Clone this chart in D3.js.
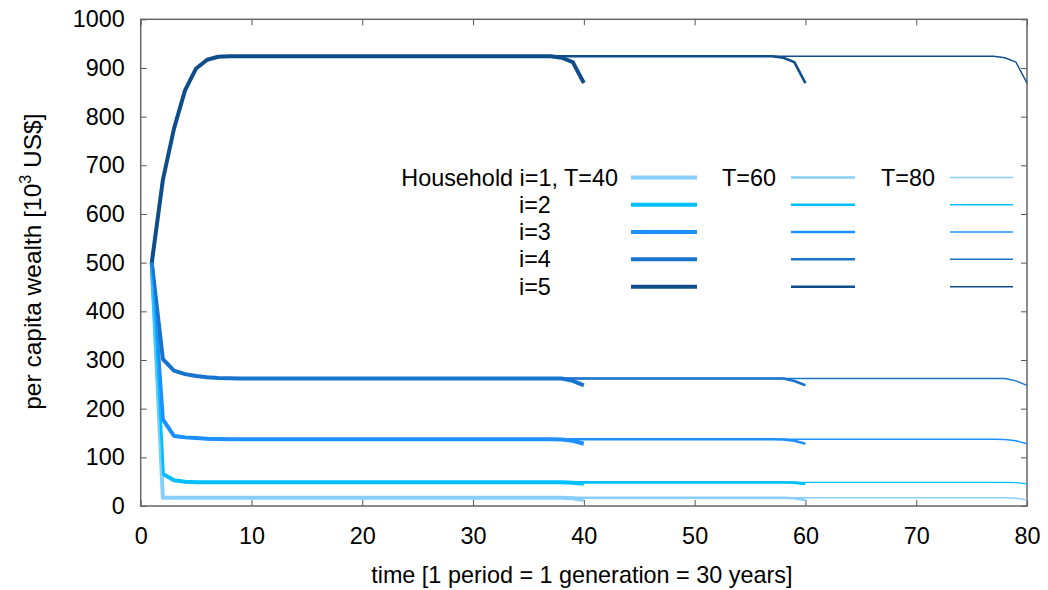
<!DOCTYPE html>
<html>
<head>
<meta charset="utf-8">
<script src="https://cdn.jsdelivr.net/npm/d3@7"></script>
<style>
  body { margin: 0; background: #fff; }
  text { font-family: "Liberation Sans", Arial, Helvetica, sans-serif; fill: #000; }
</style>
</head>
<body>
<svg id="chart" width="1048" height="590"></svg>
<script>
// Planning horizons (number of periods simulated)
const horizons = [40, 60, 80];
const households = ["i=1", "i=2", "i=3", "i=4", "i=5"];
const householdColors = ["#87cefa", "#00bfff", "#1e90ff", "#1874cd", "#104e8b"];
const horizonWidths = [4, 2.6, 1.4];

// Per capita wealth (10^3 US$) in the first periods, t = 1, 2, 3, ...
const headW1 = [500, 17];
const headW2 = [500, 66, 53, 50, 49, 48.6];
const headW3 = [500, 178, 144, 141, 139.5, 138, 137.5, 137];
const headW4 = [500, 302, 278, 271, 267, 264.5, 263, 262.5, 262];
const headW5 = [500, 670, 775, 854, 899, 917, 923, 924];

// Per capita wealth in the last four periods, t = T-3 ... T
const tailW1 = [17, 17, 16, 12.5];
const tailW2 = [48.6, 48.6, 48, 45.5];
const tailW3 = [137, 136.5, 134, 128];
const tailW4 = [262, 262, 257, 248];
const tailW5 = [924, 921, 912, 869];

const xTicks = [0, 10, 20, 30, 40, 50, 60, 70, 80];
const yTicks = [0, 100, 200, 300, 400, 500, 600, 700, 800, 900, 1000];

const heads = [headW1, headW2, headW3, headW4, headW5];
const tails = [tailW1, tailW2, tailW3, tailW4, tailW5];

const svg = d3.select("#chart");
const plot = { left: 140.7, right: 1027, top: 19.3, bottom: 506 };

const x = d3.scaleLinear().domain([0, 80]).range([plot.left, plot.right]);
const y = d3.scaleLinear().domain([0, 1000]).range([plot.bottom, plot.top]);

const fontSize = 23.4;
const tick = 6;

// axes with inward ticks, mirrored on top and right
const gLeft = svg.append("g").attr("transform", `translate(${plot.left},0)`)
  .call(d3.axisLeft(y).tickValues(yTicks).tickSize(-tick).tickPadding(16).tickFormat(d3.format("d")));
const gBottom = svg.append("g").attr("transform", `translate(0,${plot.bottom})`)
  .call(d3.axisBottom(x).tickValues(xTicks).tickSize(-tick).tickPadding(21).tickFormat(d3.format("d")));
const gRight = svg.append("g").attr("transform", `translate(${plot.right},0)`)
  .call(d3.axisRight(y).tickValues(yTicks).tickSize(-tick).tickFormat(""));
const gTop = svg.append("g").attr("transform", `translate(0,${plot.top})`)
  .call(d3.axisTop(x).tickValues(xTicks).tickSize(-tick).tickFormat(""));

[gLeft, gBottom, gRight, gTop].forEach(g => {
  g.select(".domain").remove();
  g.selectAll(".tick line").attr("stroke", "#555").attr("stroke-width", 1);
  g.selectAll(".tick text").attr("font-size", fontSize).attr("font-family", null).attr("fill", "#000");
});

svg.append("rect")
  .attr("x", plot.left).attr("y", plot.top)
  .attr("width", plot.right - plot.left).attr("height", plot.bottom - plot.top)
  .attr("fill", "none").attr("stroke", "#666").attr("stroke-width", 1.5);

// wealth paths
const line = d3.line().x(d => x(d[0])).y(d => y(d[1]));
const series = [];
horizons.forEach((T, h) => {
  households.forEach((name, i) => {
    const head = heads[i].map((v, k) => [k + 1, v]);
    const tail = tails[i].map((v, k) => [T - tails[i].length + 1 + k, v]);
    series.push({ T, h, i, pts: head.concat(tail) });
  });
});

svg.append("g").selectAll("path").data(series).join("path")
  .attr("d", d => line(d.pts))
  .attr("fill", "none")
  .attr("stroke", d => householdColors[d.i])
  .attr("stroke-width", d => horizonWidths[d.h])
  .attr("stroke-linejoin", "round");

// legend
const rowY = [177.5, 204.8, 232, 259.3, 286.7];
const cols = [
  { textRight: 618, x0: 631, x1: 697 },
  { textRight: 776, x0: 791, x1: 855 },
  { textRight: 935, x0: 950, x1: 1013 }
];
const legend = svg.append("g");
horizons.forEach((T, h) => {
  const c = cols[h];
  legend.append("text")
    .attr("x", c.textRight).attr("y", rowY[0])
    .attr("text-anchor", "end").attr("dominant-baseline", "central")
    .attr("font-size", fontSize)
    .text(h === 0 ? `Household ${households[0]}, T=${T}` : `T=${T}`);
  households.forEach((name, i) => {
    legend.append("line")
      .attr("x1", c.x0).attr("x2", c.x1)
      .attr("y1", rowY[i]).attr("y2", rowY[i])
      .attr("stroke", householdColors[i])
      .attr("stroke-width", horizonWidths[h]);
    if (h === 0 && i > 0) {
      legend.append("text")
        .attr("x", 519).attr("y", rowY[i])
        .attr("dominant-baseline", "central")
        .attr("font-size", fontSize)
        .text(name);
    }
  });
});

// axis titles
svg.append("text")
  .attr("x", (plot.left + plot.right) / 2 - 2).attr("y", 583)
  .attr("text-anchor", "middle").attr("font-size", fontSize)
  .text("time [1 period = 1 generation = 30 years]");

const yt = svg.append("text")
  .attr("transform", `translate(41,${(plot.top + plot.bottom) / 2 - 1}) rotate(-90)`)
  .attr("text-anchor", "middle").attr("font-size", 24.5);
yt.append("tspan").text("per capita wealth [10");
yt.append("tspan").attr("font-size", 16).attr("dy", -10).text("3");
yt.append("tspan").attr("dy", 10).text(" US$]");
</script>
</body>
</html>
